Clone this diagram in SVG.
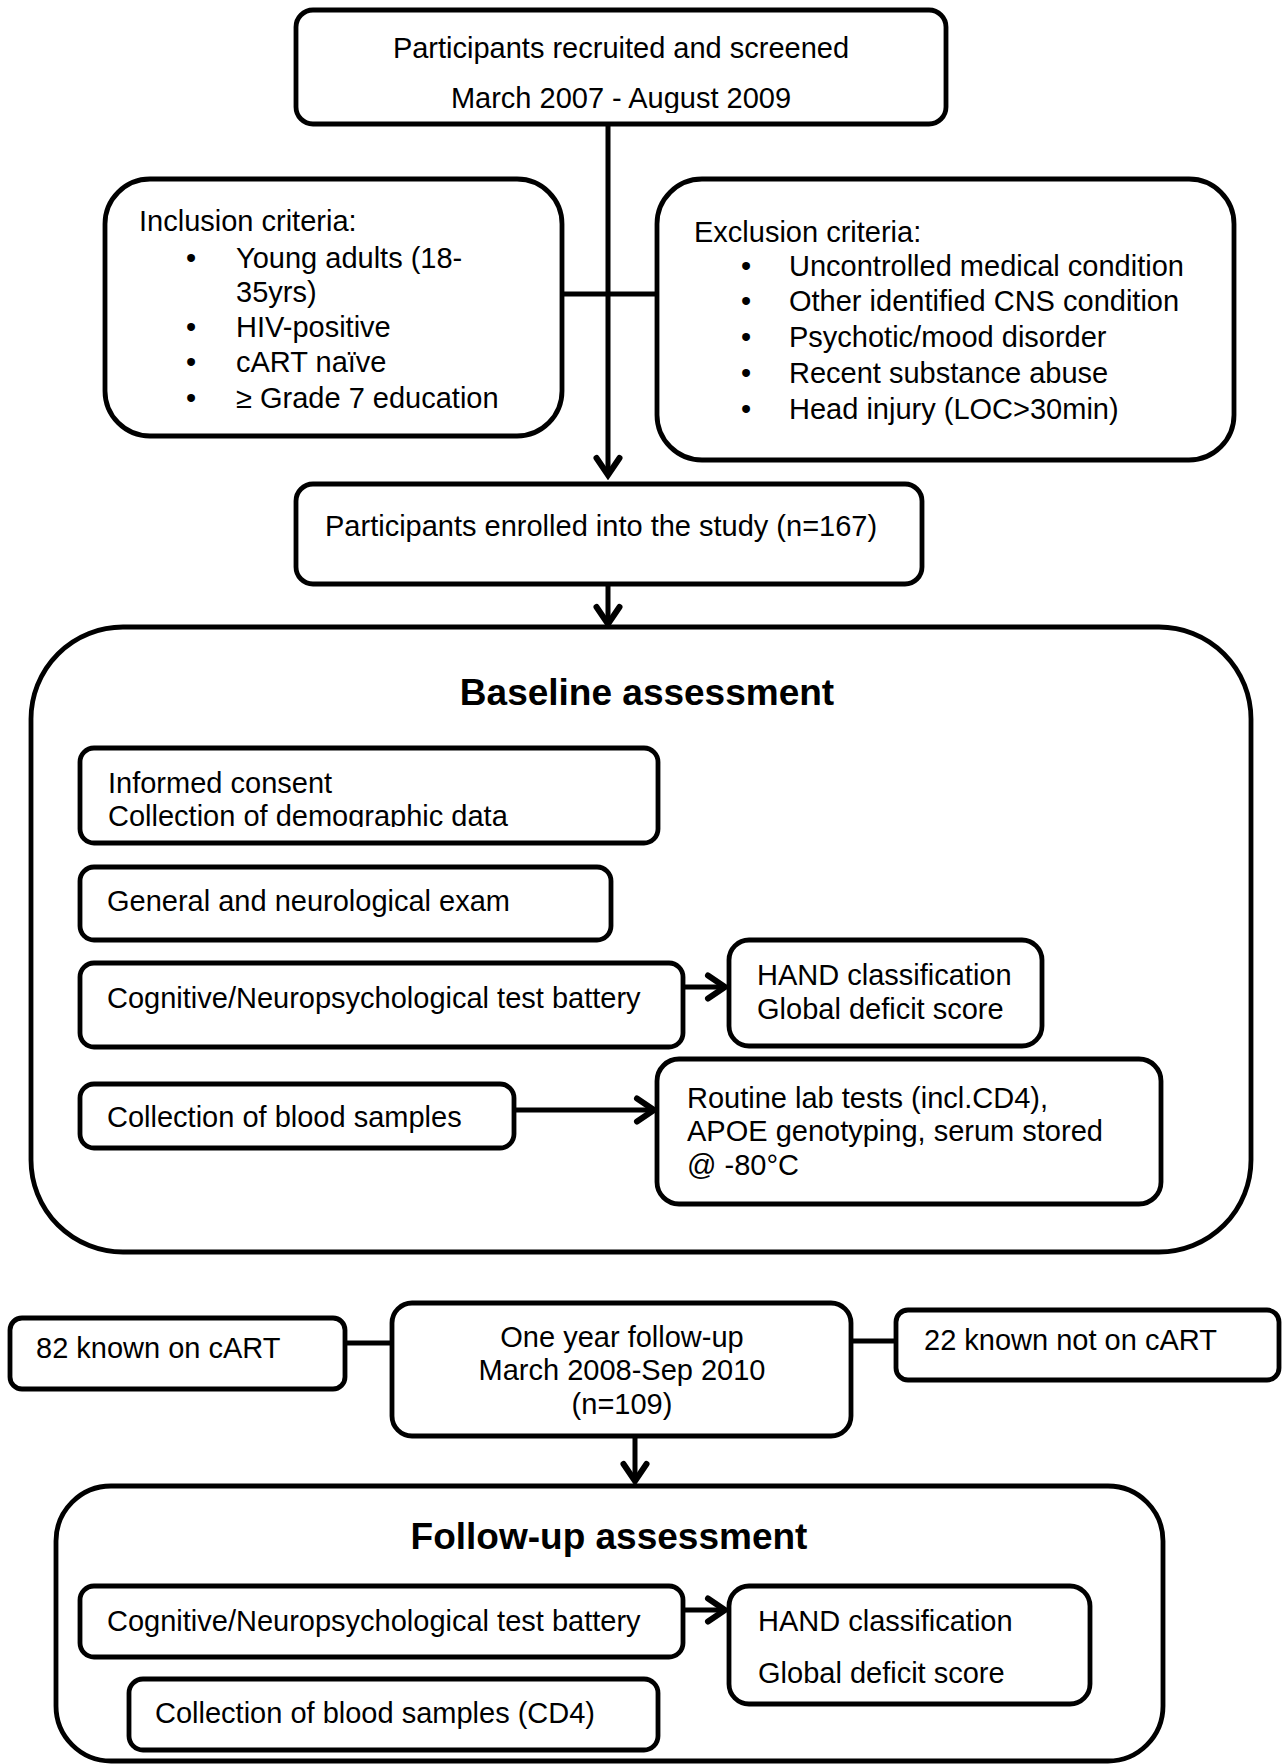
<svg xmlns="http://www.w3.org/2000/svg" width="1282" height="1764" viewBox="0 0 1282 1764">
  <style>
    .box { fill: #ffffff; stroke: #000000; stroke-width: 4.8; }
    .t { font-family: "Liberation Sans", Arial, Helvetica, sans-serif; font-size: 29px; fill: #000000; }
    .h { font-family: "Liberation Sans", Arial, Helvetica, sans-serif; font-size: 37px; font-weight: bold; fill: #000000; }
    .c { text-anchor: middle; }
    .ln { fill: none; stroke: #000000; stroke-width: 5; }
    .arr { fill: none; stroke: #000000; stroke-width: 5; marker-end: url(#head); }
  </style>
  <defs>
    <marker id="head" viewBox="0 0 26 30" refX="22" refY="15" markerWidth="26" markerHeight="30" markerUnits="userSpaceOnUse" orient="auto">
      <path d="M4,3.5 L21,15 L4,26.5" fill="none" stroke="#000000" stroke-width="6" stroke-linecap="round" stroke-linejoin="miter"/>
    </marker>
    <clipPath id="clipTop"><rect x="296" y="10" width="650" height="103"/></clipPath>
    <clipPath id="clipConsent"><rect x="80" y="748" width="578" height="79"/></clipPath>
  </defs>

  <rect width="1282" height="1764" fill="#ffffff"/>

  <!-- recruitment -->
  <g id="recruited">
    <rect class="box" x="296" y="10" width="650" height="114" rx="17"/>
    <g clip-path="url(#clipTop)">
      <text class="t c" x="621" y="58">Participants recruited and screened</text>
      <text class="t c" x="621" y="108">March 2007 - August 2009</text>
    </g>
  </g>

  <g id="inclusion">
    <rect class="box" x="105" y="179" width="457" height="257" rx="45"/>
    <text class="t" x="139" y="231">Inclusion criteria:</text>
    <text class="t" x="186" y="268">•</text><text class="t" x="236" y="268">Young adults (18-</text>
    <text class="t" x="236" y="302">35yrs)</text>
    <text class="t" x="186" y="337">•</text><text class="t" x="236" y="337">HIV-positive</text>
    <text class="t" x="186" y="372">•</text><text class="t" x="236" y="372">cART naïve</text>
    <text class="t" x="186" y="408">•</text><text class="t" x="236" y="408">≥ Grade 7 education</text>
  </g>

  <g id="exclusion">
    <rect class="box" x="657" y="179" width="577" height="281" rx="45"/>
    <text class="t" x="694" y="242">Exclusion criteria:</text>
    <text class="t" x="741" y="276">•</text><text class="t" x="789" y="276">Uncontrolled medical condition</text>
    <text class="t" x="741" y="311">•</text><text class="t" x="789" y="311">Other identified CNS condition</text>
    <text class="t" x="741" y="347">•</text><text class="t" x="789" y="347">Psychotic/mood disorder</text>
    <text class="t" x="741" y="383">•</text><text class="t" x="789" y="383">Recent substance abuse</text>
    <text class="t" x="741" y="419">•</text><text class="t" x="789" y="419">Head injury (LOC&gt;30min)</text>
  </g>

  <g id="enrolled">
    <rect class="box" x="296" y="484" width="626" height="100" rx="17"/>
    <text class="t" x="325" y="536">Participants enrolled into the study (n=167)</text>
  </g>

  <!-- baseline assessment -->
  <g id="baseline">
    <rect class="box" x="31" y="627" width="1220" height="625" rx="92"/>
    <text class="h c" x="647" y="705">Baseline assessment</text>
  </g>

  <g id="consent">
    <rect class="box" x="80" y="748" width="578" height="95" rx="14"/>
    <g clip-path="url(#clipConsent)">
      <text class="t" x="108" y="793">Informed consent</text>
      <text class="t" x="108" y="826">Collection of demographic data</text>
    </g>
  </g>

  <g id="exam">
    <rect class="box" x="80" y="867" width="531" height="73" rx="14"/>
    <text class="t" x="107" y="911">General and neurological exam</text>
  </g>

  <g id="cognitive">
    <rect class="box" x="80" y="963" width="603" height="84" rx="14"/>
    <text class="t" x="107" y="1008">Cognitive/Neuropsychological test battery</text>
  </g>

  <g id="hand">
    <rect class="box" x="729" y="940" width="313" height="106" rx="20"/>
    <text class="t" x="757" y="985">HAND classification</text>
    <text class="t" x="757" y="1019">Global deficit score</text>
  </g>

  <g id="blood">
    <rect class="box" x="80" y="1084" width="434" height="64" rx="14"/>
    <text class="t" x="107" y="1127">Collection of blood samples</text>
  </g>

  <g id="routine">
    <rect class="box" x="657" y="1059" width="504" height="145" rx="22"/>
    <text class="t" x="687" y="1108">Routine lab tests (incl.CD4),</text>
    <text class="t" x="687" y="1141">APOE genotyping, serum stored</text>
    <text class="t" x="687" y="1175">@ -80°C</text>
  </g>

  <!-- follow-up -->
  <g id="followup">
    <rect class="box" x="392" y="1303" width="459" height="133" rx="20"/>
    <text class="t c" x="622" y="1347">One year follow-up</text>
    <text class="t c" x="622" y="1380">March 2008-Sep 2010</text>
    <text class="t c" x="622" y="1414">(n=109)</text>
  </g>

  <g id="onart">
    <rect class="box" x="10" y="1318" width="335" height="71" rx="12"/>
    <text class="t" x="36" y="1358">82 known on cART</text>
  </g>

  <g id="notonart">
    <rect class="box" x="896" y="1310" width="383" height="70" rx="12"/>
    <text class="t" x="924" y="1350">22 known not on cART</text>
  </g>

  <g id="followupAssessment">
    <rect class="box" x="56" y="1486" width="1107" height="275" rx="55"/>
    <text class="h c" x="609" y="1549">Follow-up assessment</text>
  </g>

  <g id="cognitive2">
    <rect class="box" x="80" y="1586" width="603" height="71" rx="14"/>
    <text class="t" x="107" y="1631">Cognitive/Neuropsychological test battery</text>
  </g>

  <g id="hand2">
    <rect class="box" x="729" y="1586" width="361" height="118" rx="20"/>
    <text class="t" x="758" y="1631">HAND classification</text>
    <text class="t" x="758" y="1683">Global deficit score</text>
  </g>

  <g id="blood2">
    <rect class="box" x="129" y="1679" width="529" height="71" rx="14"/>
    <text class="t" x="155" y="1723">Collection of blood samples (CD4)</text>
  </g>

  <!-- connectors, drawn over the container boxes -->
  <g id="connectors">
    <line class="arr" x1="608" y1="124" x2="608" y2="476"/>
    <line class="ln" x1="562" y1="294" x2="657" y2="294"/>
    <line class="arr" x1="608" y1="586" x2="608" y2="625"/>
    <line class="arr" x1="685" y1="987" x2="726" y2="987"/>
    <line class="arr" x1="516" y1="1110" x2="655" y2="1110"/>
    <line class="ln" x1="345" y1="1343" x2="392" y2="1343"/>
    <line class="ln" x1="851" y1="1341" x2="896" y2="1341"/>
    <line class="arr" x1="635" y1="1438" x2="635" y2="1482"/>
    <line class="arr" x1="685" y1="1610" x2="726" y2="1610"/>
  </g>
</svg>
